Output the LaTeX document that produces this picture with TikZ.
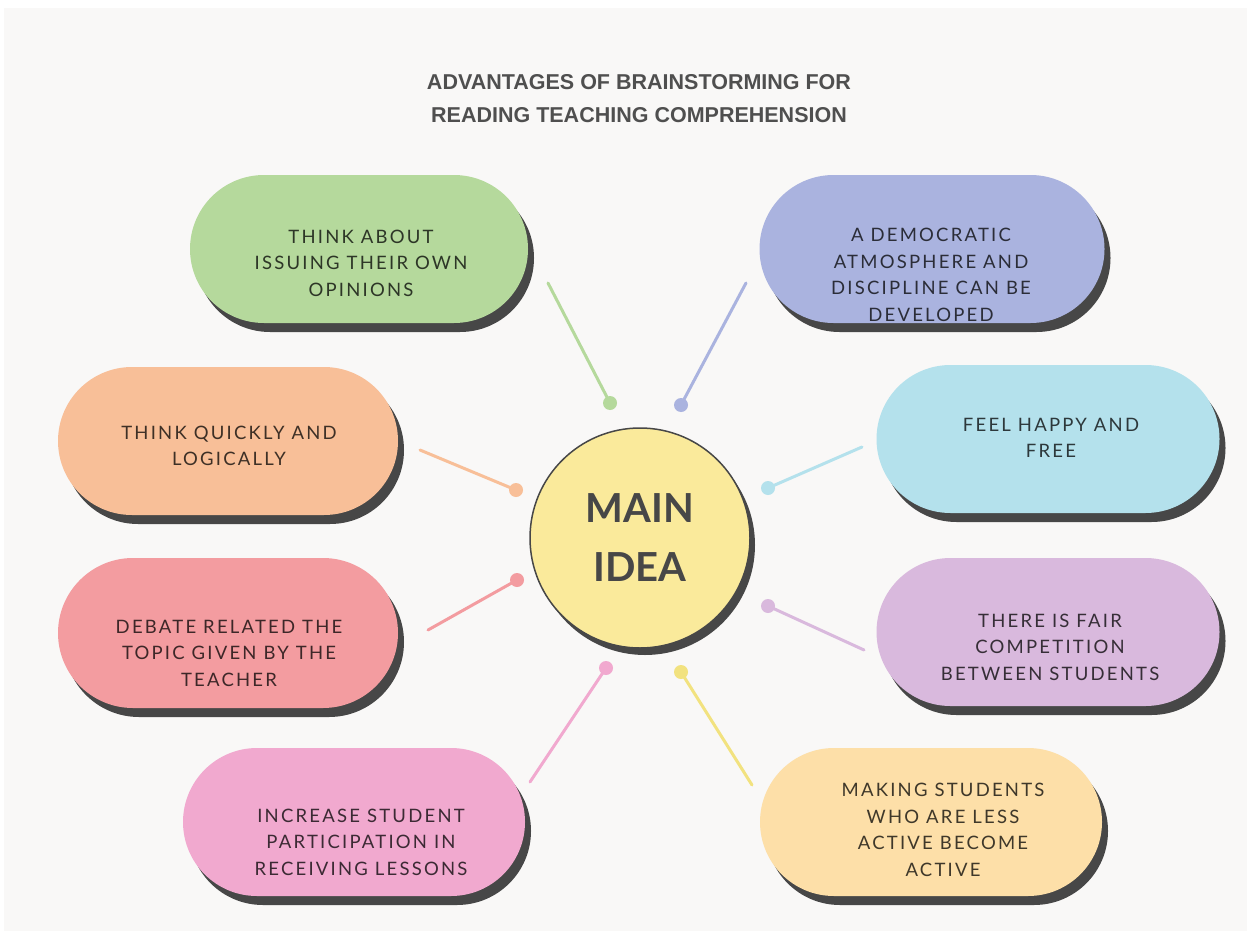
\documentclass[tikz,border=0pt]{standalone}
\usepackage{fontspec}
\setmainfont{Lato}
\newfontfamily\spaced[LetterSpace=12]{Lato}
\newfontfamily\heading{Liberation Sans}
\usetikzlibrary{shapes.misc,shadows}
\definecolor{paper}{HTML}{F9F8F7}
\definecolor{shade}{HTML}{474747}
\definecolor{ink}{HTML}{4F4F4F}
\definecolor{leaf}{HTML}{B5D99C}
\definecolor{lilac}{HTML}{AAB3DF}
\definecolor{peach}{HTML}{F8BF98}
\definecolor{sky}{HTML}{B4E1EC}
\definecolor{rose}{HTML}{F39CA0}
\definecolor{mauve}{HTML}{D9B9DD}
\definecolor{candy}{HTML}{F1A9CF}
\definecolor{sand}{HTML}{FDDFA8}
\definecolor{lemon}{HTML}{FAEA9B}
\definecolor{stalk}{HTML}{F2E27F}
\begin{document}
\begin{tikzpicture}[x=1pt,y=-1pt,line cap=round,
	bubble/.style={rounded rectangle,minimum width=340pt,minimum height=148pt,inner sep=0pt,fill=#1,
		drop shadow={shadow xshift=6pt,shadow yshift=-9pt,fill=shade,opacity=1}},
	words/.style={font=\spaced\fontsize{18.5}{26.5}\selectfont,align=center,text=#1!25!black},
	stem/.style={draw=#1,line width=3pt},
	knob/.style={circle,fill=#1,inner sep=0pt,minimum size=14pt}]
	\useasboundingbox (0,0) rectangle (1247,931);
	\fill[paper] (4,8) rectangle (1247,931);
	\node[font=\heading\bfseries\fontsize{21.5}{33}\selectfont,text=ink,align=center] (title) at (639,99)
		{ADVANTAGES OF BRAINSTORMING FOR\\READING TEACHING COMPREHENSION};
	%% connectors, outer end -> dot next to the circle
	\path
	(548,283)coordinate(g0) (610,403)node[knob=leaf](g1){}
	(746,283)coordinate(b0) (681,405)node[knob=lilac](b1){}
	(420,450)coordinate(o0) (516,490)node[knob=peach](o1){}
	(862,447)coordinate(c0) (768,488)node[knob=sky](c1){}
	(428,630)coordinate(r0) (517,580)node[knob=rose](r1){}
	(864,650)coordinate(p0) (768,606)node[knob=mauve](p1){}
	(530,782)coordinate(k0) (606,668)node[knob=candy](k1){}
	(752,785)coordinate(y0) (681,672)node[knob=stalk](y1){}
	;
	\draw[stem=leaf] (g0)--(g1.center);
	\draw[stem=lilac] (b0)--(b1.center);
	\draw[stem=peach] (o0)--(o1.center);
	\draw[stem=sky] (c0)--(c1.center);
	\draw[stem=rose] (r0)--(r1.center);
	\draw[stem=mauve] (p0)--(p1.center);
	\draw[stem=candy] (k0)--(k1.center);
	\draw[stem=stalk] (y0)--(y1.center);
	%% the bubbles
	\node[bubble=leaf,minimum width=338pt] (think) at (359,249) {};
	\node[bubble=lilac,minimum width=345pt] (demo) at (932,249) {};
	\node[bubble=peach] (quick) at (228,441) {};
	\node[bubble=sky,minimum width=343pt] (happy) at (1048,439) {};
	\node[bubble=rose,minimum height=150pt] (debate) at (228,633) {};
	\node[bubble=mauve,minimum width=343pt] (fair) at (1048,632) {};
	\node[bubble=candy,minimum width=342pt] (part) at (354,822) {};
	\node[bubble=sand,minimum width=342pt] (active) at (931,822) {};
	\node[words=leaf] (thinkT) at (361,263) {THINK ABOUT\\ISSUING THEIR OWN\\OPINIONS};
	\node[words=lilac] (demoT) at (931,275) {A DEMOCRATIC\\ATMOSPHERE AND\\DISCIPLINE CAN BE\\DEVELOPED};
	\node[words=peach] (quickT) at (229,446) {THINK QUICKLY AND\\LOGICALLY};
	\node[words=sky] (happyT) at (1051,438) {FEEL HAPPY AND\\FREE};
	\node[words=rose] (debateT) at (229,653) {DEBATE RELATED THE\\TOPIC GIVEN BY THE\\TEACHER};
	\node[words=mauve] (fairT) at (1050,647) {THERE IS FAIR\\COMPETITION\\BETWEEN STUDENTS};
	\node[words=candy] (partT) at (361,842) {INCREASE STUDENT\\PARTICIPATION IN\\RECEIVING LESSONS};
	\node[words=sand] (activeT) at (943,830) {MAKING STUDENTS\\WHO ARE LESS\\ACTIVE BECOME\\ACTIVE};
	%% main idea
	\node[circle,minimum size=220pt,fill=lemon,draw=shade,line width=1.5pt,
		drop shadow={shadow xshift=5pt,shadow yshift=-7pt,fill=shade,opacity=1},
		font=\bfseries\fontsize{40}{59}\selectfont,text=shade,align=center] (main) at (640,538) {MAIN\\IDEA};
\end{tikzpicture}
\end{document}
